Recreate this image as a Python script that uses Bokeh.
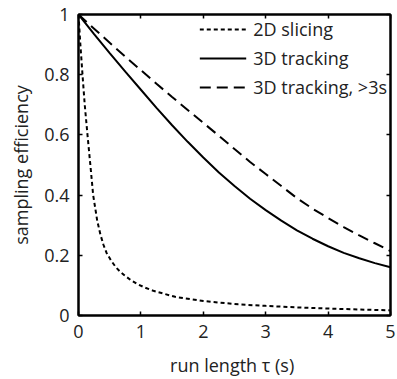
from bokeh.plotting import figure
from bokeh.models import Range1d, FixedTicker, LinearAxis, Legend, LegendItem
from bokeh.embed import file_html
from bokeh.resources import INLINE

# ---- data ----
x_2d = [0, 0.015, 0.03, 0.064, 0.1, 0.144, 0.19, 0.235, 0.3, 0.35, 0.4, 0.45, 0.52,
        0.6, 0.67, 0.74, 0.83, 0.93, 1.05, 1.2, 1.55, 2.0, 2.56, 3.0, 3.5, 4.0, 4.5, 5.0]
y_2d = [1, 0.95, 0.9, 0.8, 0.7, 0.6, 0.5, 0.4, 0.315, 0.27, 0.235, 0.208, 0.183,
        0.16, 0.145, 0.133, 0.119, 0.106, 0.094, 0.082, 0.062, 0.048, 0.037, 0.032,
        0.027, 0.023, 0.02, 0.017]

x_3d = [0, 0.25, 0.5, 0.75, 1, 1.25, 1.5, 1.75, 2, 2.25, 2.5, 2.75, 3, 3.25, 3.5,
        3.75, 4, 4.25, 4.5, 4.75, 5]
y_3d = [1, 0.935, 0.872, 0.81, 0.75, 0.69, 0.632, 0.577, 0.525, 0.475, 0.43, 0.388,
        0.35, 0.315, 0.283, 0.255, 0.23, 0.208, 0.19, 0.174, 0.16]

x_3d3 = [0, 0.25, 0.5, 0.75, 1, 1.25, 1.5, 1.75, 2, 2.25, 2.5, 2.75, 3, 3.25, 3.5,
         3.75, 4, 4.25, 4.5, 4.75, 5]
y_3d3 = [1, 0.953, 0.906, 0.86, 0.815, 0.77, 0.726, 0.683, 0.64, 0.597, 0.553,
         0.51, 0.47, 0.43, 0.39, 0.355, 0.324, 0.294, 0.266, 0.24, 0.214]

x_ticks = [0, 1, 2, 3, 4, 5]
x_tick_labels = ["0", "1", "2", "3", "4", "5"]
y_ticks = [0, 0.2, 0.4, 0.6, 0.8, 1]
y_tick_labels = ["0", "0.2", "0.4", "0.6", "0.8", "1"]

series_labels = ["2D slicing", "3D tracking", "3D tracking, >3s"]
x_label = "run length  \u03c4 (s)"
y_label = "sampling efficiency"

FONT = "Open Sans"
FS = "18px"

p = figure(width=397, height=379, output_backend="svg", toolbar_location=None,
           x_range=Range1d(0, 5), y_range=Range1d(0, 1),
           min_border_left=78, min_border_right=7, min_border_top=14,
           min_border_bottom=63, x_axis_type=None, y_axis_type=None)
p.grid.visible = False
p.outline_line_color = "black"
p.outline_line_width = 2
p.background_fill_color = "white"
p.border_fill_color = "white"

def style_axis(ax, ticks, labels, show):
    ax.ticker = FixedTicker(ticks=ticks)
    ax.major_label_overrides = {t: l for t, l in zip(ticks, labels)}
    ax.major_tick_in = 4
    ax.major_tick_out = 0
    ax.major_tick_line_width = 1.5
    ax.minor_tick_line_color = None
    ax.axis_line_width = 2
    ax.major_label_text_font = FONT
    ax.axis_label_text_font = FONT
    ax.axis_label_text_font_style = "normal"
    ax.major_label_text_color = "#222222"
    ax.axis_label_text_color = "#222222"
    if show:
        ax.major_label_text_font_size = FS
        ax.axis_label_text_font_size = FS
    else:
        ax.major_label_text_font_size = "0px"
        ax.major_label_standoff = 0

xb = LinearAxis(axis_label=x_label)
style_axis(xb, x_ticks, x_tick_labels, True)
xb.major_label_standoff = 9
xb.axis_label_standoff = 12
p.add_layout(xb, "below")

yl = LinearAxis(axis_label=y_label)
style_axis(yl, y_ticks, y_tick_labels, True)
yl.major_label_standoff = 9
yl.axis_label_standoff = 8
p.add_layout(yl, "left")

xt = LinearAxis()
style_axis(xt, x_ticks, x_tick_labels, False)
p.add_layout(xt, "above")

yr = LinearAxis()
style_axis(yr, y_ticks, y_tick_labels, False)
p.add_layout(yr, "right")

r1 = p.line(x_2d, y_2d, line_color="black", line_width=2, line_dash="4 3")
r2 = p.line(x_3d, y_3d, line_color="black", line_width=2)
r3 = p.line(x_3d3, y_3d3, line_color="black", line_width=2, line_dash="11 6")

legend = Legend(items=[LegendItem(label=series_labels[0], renderers=[r1]),
                       LegendItem(label=series_labels[1], renderers=[r2]),
                       LegendItem(label=series_labels[2], renderers=[r3])],
                location="top_right")
legend.border_line_alpha = 0
legend.background_fill_alpha = 0
legend.margin = 3
legend.padding = 0
legend.spacing = 5
legend.glyph_width = 47
legend.glyph_height = 20
legend.label_height = 20
legend.label_standoff = 7
legend.label_text_font = FONT
legend.label_text_font_size = FS
legend.label_text_color = "#222222"
p.add_layout(legend, "center")

open("out.html", "w").write(file_html(p, INLINE))
